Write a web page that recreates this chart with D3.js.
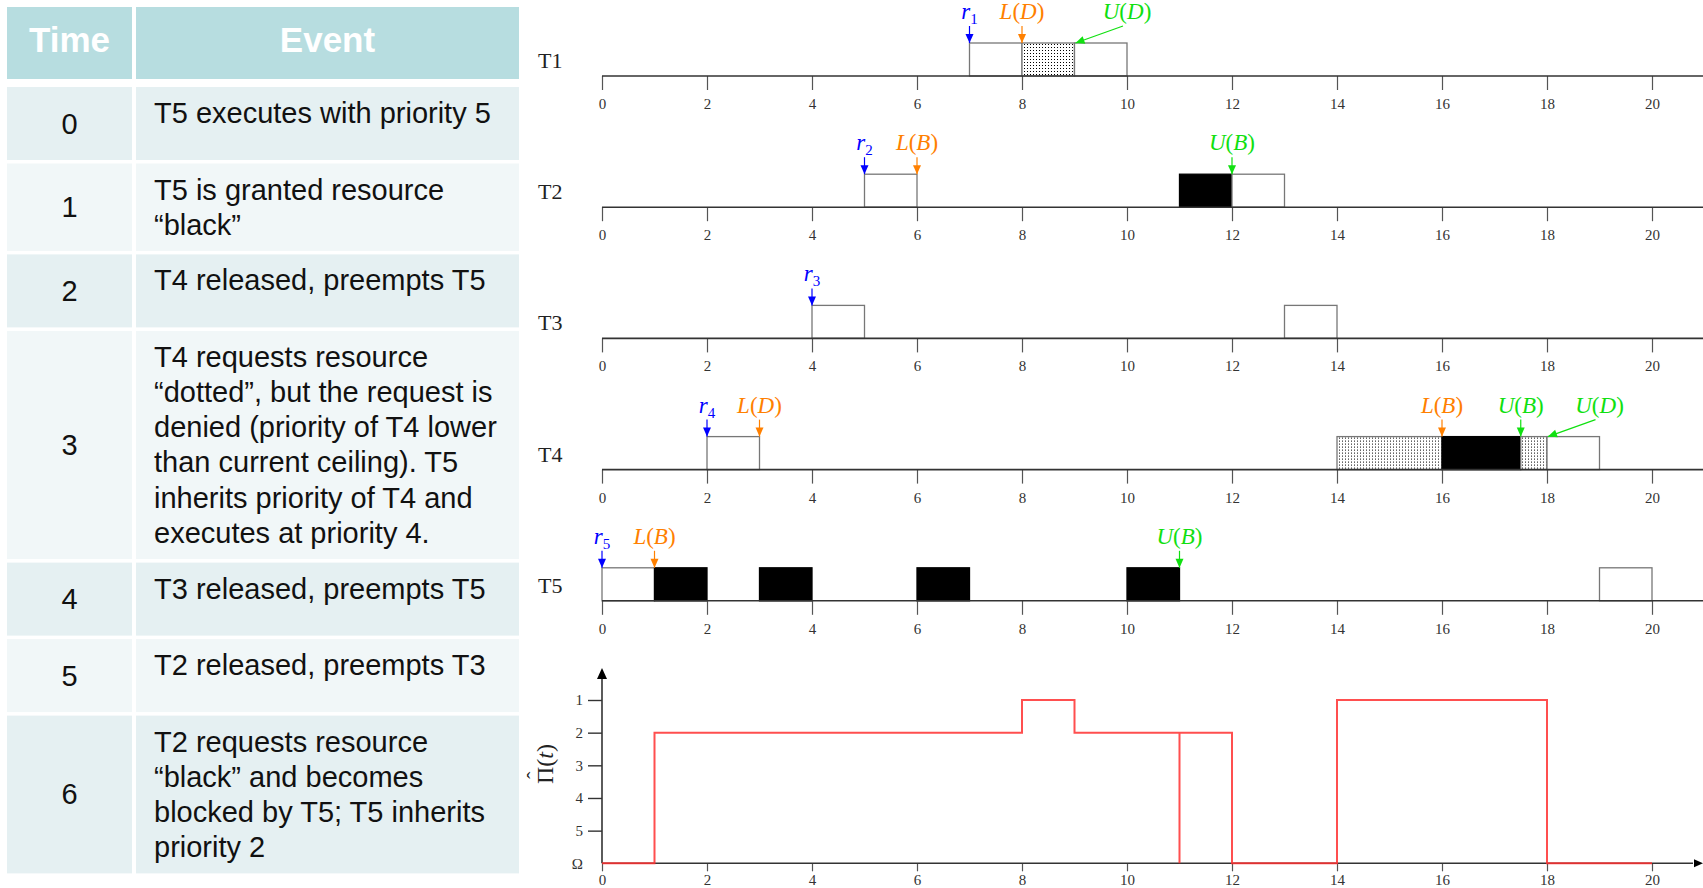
<!DOCTYPE html>
<html lang="en">
<head>
<meta charset="utf-8">
<title>Priority ceiling schedule</title>
<script src="https://d3js.org/d3.v7.min.js"></script>
<style>
    body { margin: 0; background: #fff; }
    svg { display: block; }
    .cell text { font-family: "Liberation Sans", Arial, sans-serif; }
    .serif, .serif text { font-family: "Liberation Serif", "Times New Roman", serif; }
</style>
</head>
<body>
<script>
    // ---- table
    const times = ["0", "1", "2", "3", "4", "5", "6"];
    const events = [
        ["T5 executes with priority 5"],
        ["T5 is granted resource", "\u201cblack\u201d"],
        ["T4 released, preempts T5"],
        ["T4 requests resource", "\u201cdotted\u201d, but the request is", "denied (priority of T4 lower",
         "than current ceiling). T5", "inherits priority of T4 and", "executes at priority 4."],
        ["T3 released, preempts T5"],
        ["T2 released, preempts T3"],
        ["T2 requests resource", "\u201cblack\u201d and becomes", "blocked by T5; T5 inherits", "priority 2"]
    ];

    // ---- schedule (w = plain, b = black resource, d = dotted resource)
    const tasks = ["T1", "T2", "T3", "T4", "T5"];
    const releases = [7, 5, 4, 2, 0];
    const execs = [
        [[7, 8, "w"], [8, 9, "d"], [9, 10, "w"]],
        [[5, 6, "w"], [11, 12, "b"], [12, 13, "w"]],
        [[4, 5, "w"], [13, 14, "w"]],
        [[2, 3, "w"], [14, 16, "d"], [16, 17.5, "b"], [17.5, 18, "d"], [18, 19, "w"]],
        [[0, 1, "w"], [1, 2, "b"], [3, 4, "b"], [6, 7, "b"], [10, 11, "b"], [19, 20, "w"]]
    ];
    // [task index, time, resource]
    const locks = [[0, 8, "D"], [1, 6, "B"], [3, 3, "D"], [3, 16, "B"], [4, 1, "B"]];
    // [task index, time, resource, label time]
    const unlocks = [[0, 9, "D", 10], [1, 12, "B", 12], [3, 17.5, "B", 17.5], [3, 18, "D", 19], [4, 11, "B", 11]];
    const xTicks = [0, 2, 4, 6, 8, 10, 12, 14, 16, 18, 20];

    // ---- system ceiling (level 6 = Omega)
    const ceilLevels = ["1", "2", "3", "4", "5", "\u03a9"];
    const ceilPath = [[0, 6], [1, 6], [1, 2], [8, 2], [8, 1], [9, 1], [9, 2], [11, 2], [11, 6], [11, 2],
                      [12, 2], [12, 6], [14, 6], [14, 1], [18, 1], [18, 6], [20, 6]];

    const W = 1703, H = 888;
    const svg = d3.select("body").append("svg").attr("width", W).attr("height", H);

    const pat = svg.append("defs").append("pattern").attr("id", "dots")
        .attr("patternUnits", "userSpaceOnUse").attr("width", 3).attr("height", 3);
    pat.append("rect").attr("width", 3).attr("height", 3).attr("fill", "#fff");
    pat.append("rect").attr("x", 1).attr("y", 1).attr("width", 1).attr("height", 1).attr("fill", "#000");

    // ================= table =================
    const tbl = svg.append("g").attr("class", "cell");
    const timeX = 7, timeW = 125, evX = 136, evW = 383;
    const lineH = 35.2, gap = 3.5;
    const rowH = events.map(e => Math.max(73, e.length * lineH + 17));
    const rowY = [];
    let yy = 87;
    rowH.forEach(h => { rowY.push(yy); yy += h + gap; });

    tbl.append("rect").attr("x", timeX).attr("y", 7).attr("width", timeW).attr("height", 72).attr("fill", "#b7dde0");
    tbl.append("rect").attr("x", evX).attr("y", 7).attr("width", evW).attr("height", 72).attr("fill", "#b7dde0");
    tbl.append("text").attr("x", timeX + timeW / 2).attr("y", 52).attr("text-anchor", "middle")
        .attr("font-size", 35).attr("font-weight", "bold").attr("fill", "#fff").text("Time");
    tbl.append("text").attr("x", evX + evW / 2).attr("y", 52).attr("text-anchor", "middle")
        .attr("font-size", 35).attr("font-weight", "bold").attr("fill", "#fff").text("Event");

    const rows = tbl.selectAll("g.row").data(events).join("g").attr("class", "row")
        .attr("transform", (d, i) => `translate(0,${rowY[i]})`);
    rows.append("rect").attr("x", timeX).attr("width", timeW).attr("height", (d, i) => rowH[i])
        .attr("fill", (d, i) => i % 2 ? "#f1f7f8" : "#e5f0f2");
    rows.append("rect").attr("x", evX).attr("width", evW).attr("height", (d, i) => rowH[i])
        .attr("fill", (d, i) => i % 2 ? "#f1f7f8" : "#e5f0f2");
    rows.append("text").attr("x", timeX + timeW / 2).attr("y", (d, i) => rowH[i] / 2 + 10)
        .attr("text-anchor", "middle").attr("font-size", 29).attr("fill", "#111")
        .text((d, i) => times[i]);
    rows.append("text").attr("font-size", 29).attr("fill", "#111")
        .selectAll("tspan").data(d => d).join("tspan")
        .attr("x", 154).attr("y", (d, j) => 36 + j * lineH).text(d => d);

    // ================= schedule rows =================
    const x = d3.scaleLinear().domain([0, 20]).range([602, 1652]);
    const rowAxis = d3.scaleLinear().domain([0, 4]).range([76, 600.8]);
    const boxH = 33;
    const blue = "#0000ff", orange = "#ff8000", green = "#10e010";

    const sched = svg.append("g").attr("class", "serif");

    function arrowHead(g, tipX, tipY, fromX, fromY, color) {
        const a = Math.atan2(tipY - fromY, tipX - fromX);
        const len = 9, hw = 4;
        const bx = tipX - len * Math.cos(a), by = tipY - len * Math.sin(a);
        const px = -Math.sin(a) * hw, py = Math.cos(a) * hw;
        g.append("path").attr("d", `M${tipX},${tipY}L${bx + px},${by + py}L${bx - px},${by - py}Z`).attr("fill", color);
    }

    function marker(g, t, labelT, color) {
        const top = -boxH;
        const x0 = labelT === t ? x(t) : x(labelT) - 4;
        const y0 = top - 17;
        const tipX = labelT === t ? x(t) : x(t) + 1;
        g.append("line").attr("x1", x0).attr("y1", y0).attr("x2", tipX).attr("y2", top)
            .attr("stroke", color).attr("stroke-width", 1.2);
        arrowHead(g, tipX, top, x0, y0, color);
    }

    function mathLabel(g, t, parts, color) {
        const txt = g.append("text").attr("x", x(t)).attr("y", -boxH - 24).attr("text-anchor", "middle")
            .attr("font-size", 23).attr("fill", color);
        parts.forEach(p => {
            const s = txt.append("tspan").text(p[0]);
            if (p[1] === "i") s.attr("font-style", "italic");
            if (p[1] === "sub") s.attr("font-size", 15).attr("dy", 5);
        });
    }

    tasks.forEach((name, i) => {
        const g = sched.append("g").attr("transform", `translate(0,${rowAxis(i)})`);
        g.append("text").attr("x", 538).attr("y", -8).attr("font-size", 22).attr("fill", "#222").text(name);

        g.selectAll("rect.exec").data(execs[i]).join("rect").attr("class", "exec")
            .attr("x", d => x(d[0])).attr("y", -boxH)
            .attr("width", d => x(d[1]) - x(d[0])).attr("height", boxH)
            .attr("fill", d => d[2] === "b" ? "#000" : d[2] === "d" ? "url(#dots)" : "#fff")
            .attr("stroke", d => d[2] === "b" ? "#000" : "#777").attr("stroke-width", 1.3);

        const ax = g.append("g").call(d3.axisBottom(x).tickValues(xTicks).tickSize(14));
        ax.select(".domain").remove();
        ax.selectAll(".tick line").attr("stroke", "#555").attr("stroke-width", 1.2);
        ax.selectAll(".tick text").attr("y", 33).attr("dy", null)
            .attr("font-family", "Liberation Serif, serif").attr("font-size", 15).attr("fill", "#333");
        g.append("line").attr("x1", x(0)).attr("x2", W).attr("stroke", "#333").attr("stroke-width", 1.6);

        marker(g, releases[i], releases[i], blue);
        mathLabel(g, releases[i], [["r", "i"], [String(i + 1), "sub"]], blue);

        locks.filter(d => d[0] === i).forEach(d => {
            marker(g, d[1], d[1], orange);
            mathLabel(g, d[1], [["L", "i"], ["("], [d[2], "i"], [")"]], orange);
        });
        unlocks.filter(d => d[0] === i).forEach(d => {
            marker(g, d[1], d[3], green);
            mathLabel(g, d[3], [["U", "i"], ["("], [d[2], "i"], [")"]], green);
        });
    });

    // ================= ceiling chart =================
    const yC = d3.scaleLinear().domain([1, 6]).range([700, 863.3]);
    const cg = svg.append("g").attr("class", "serif");

    const xa = cg.append("g").attr("transform", `translate(0,${yC(6)})`)
        .call(d3.axisBottom(x).tickValues(xTicks).tickSize(8));
    xa.select(".domain").remove();
    xa.selectAll(".tick line").attr("stroke", "#555").attr("stroke-width", 1.2);
    xa.selectAll(".tick text").attr("y", 22).attr("dy", null)
        .attr("font-family", "Liberation Serif, serif").attr("font-size", 15).attr("fill", "#333");

    const ya = cg.append("g").attr("transform", `translate(${x(0)},0)`)
        .call(d3.axisLeft(yC).tickValues([1, 2, 3, 4, 5, 6]).tickSize(14).tickPadding(5)
            .tickFormat(v => ceilLevels[v - 1]));
    ya.select(".domain").remove();
    ya.selectAll(".tick line").attr("stroke", "#333").attr("stroke-width", 1.4)
        .filter(v => v === 6).remove();
    ya.selectAll(".tick text").attr("font-family", "Liberation Serif, serif")
        .attr("font-size", 15).attr("fill", "#333");

    cg.append("line").attr("x1", x(0)).attr("x2", W - 10).attr("y1", yC(6)).attr("y2", yC(6))
        .attr("stroke", "#333").attr("stroke-width", 1.6);
    arrowHead(cg, W, yC(6), x(0), yC(6), "#000");
    cg.append("line").attr("x1", x(0)).attr("x2", x(0)).attr("y1", yC(6)).attr("y2", 676)
        .attr("stroke", "#333").attr("stroke-width", 1.6);
    cg.append("path").attr("d", `M${x(0)},668L${x(0) - 5},679L${x(0) + 5},679Z`).attr("fill", "#000");

    cg.append("path").datum(ceilPath)
        .attr("d", d3.line().x(d => x(d[0])).y(d => yC(d[1])))
        .attr("fill", "none").attr("stroke", "#ff3030").attr("stroke-opacity", 0.85).attr("stroke-width", 2);

    // y label: Pi with a hat, rotated
    const yl = cg.append("g").attr("transform", "translate(553,764) rotate(-90)");
    const ylt = yl.append("text").attr("y", 0).attr("text-anchor", "middle")
        .attr("font-size", 24).attr("fill", "#222");
    const piSpan = ylt.append("tspan").text("\u03a0");
    ylt.append("tspan").text("(");
    ylt.append("tspan").attr("font-style", "italic").text("t");
    ylt.append("tspan").text(")");
    const totalW = ylt.node().getComputedTextLength();
    const piW = piSpan.node().getComputedTextLength();
    yl.append("text").attr("x", -totalW / 2 + piW / 2).attr("y", -11).attr("text-anchor", "middle")
        .attr("font-size", 22).attr("fill", "#222").text("\u02c6");
</script>
</body>
</html>
